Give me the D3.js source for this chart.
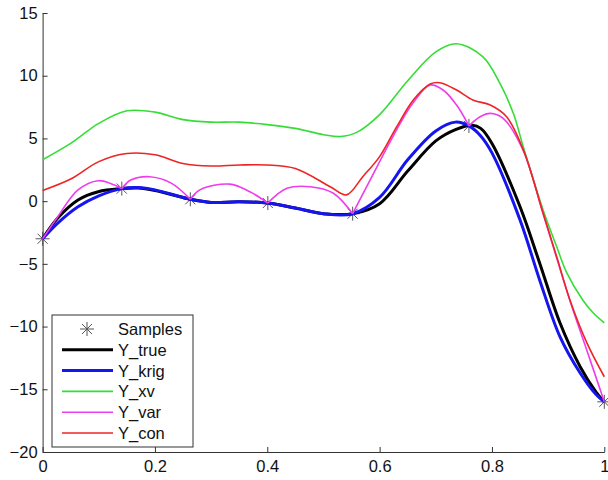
<!DOCTYPE html>
<html>
<head>
<meta charset="utf-8">
<script src="https://cdn.jsdelivr.net/npm/d3@7"></script>
<style>
  html, body { margin: 0; padding: 0; background: #fff; }
  svg text { font-family: "Liberation Sans", Arial, Helvetica, sans-serif; }
</style>
</head>
<body>
<svg id="chart" width="608" height="480"></svg>
<script>
// Sample locations and observed responses
const sampleX = [0, 0.141, 0.263, 0.401, 0.552, 0.759, 1.0];
const sampleY = [-3.0, 1.0, 0.15, -0.15, -1.0, 6.0, -16.0];

// True function
const trueX = [0, 0.027, 0.063, 0.099, 0.141, 0.17, 0.2, 0.263, 0.3, 0.35, 0.401, 0.45, 0.5, 0.552, 0.6, 0.65, 0.7, 0.735, 0.765, 0.78, 0.8, 0.85, 0.885, 0.921, 0.957, 0.985, 1.0];
const trueY = [-3.0, -1.35, 0.09, 0.75, 1.0, 1.05, 0.85, 0.15, -0.1, -0.05, -0.15, -0.55, -1.0, -1.0, -0.2, 2.4, 4.8, 5.7, 6.05, 5.8, 4.6, -0.45, -4.95, -9.7, -13.2, -15.2, -16.0];

// Kriging predictor
const krigX = [0, 0.027, 0.063, 0.099, 0.141, 0.17, 0.2, 0.263, 0.3, 0.35, 0.401, 0.45, 0.5, 0.552, 0.6, 0.65, 0.7, 0.735, 0.759, 0.78, 0.8, 0.85, 0.885, 0.921, 0.957, 0.985, 1.0];
const krigY = [-3.0, -1.75, -0.45, 0.4, 1.0, 1.08, 0.9, 0.15, -0.1, -0.05, -0.15, -0.55, -1.0, -1.0, 0.3, 3.3, 5.6, 6.3, 6.0, 5.2, 3.85, -1.5, -6.3, -10.8, -13.7, -15.4, -16.0];

// Cross-validation bound
const xvX = [0, 0.05, 0.1, 0.15, 0.2, 0.25, 0.3, 0.35, 0.4, 0.45, 0.5, 0.53, 0.56, 0.6, 0.65, 0.7, 0.737, 0.784, 0.814, 0.838, 0.856, 0.891, 0.915, 0.933, 0.962, 0.98, 1.0];
const xvY = [3.3, 4.6, 6.2, 7.2, 7.1, 6.5, 6.3, 6.3, 6.1, 5.8, 5.3, 5.15, 5.5, 6.9, 9.6, 11.9, 12.55, 11.5, 9.4, 7.0, 4.3, -0.7, -3.6, -5.7, -7.9, -8.9, -9.7];

// Variance-based bound, one arch between consecutive samples
const varArches = [
  { x: [0, 0.027, 0.063, 0.099, 0.128, 0.141], y: [-3.0, -1.24, 0.89, 1.63, 1.28, 1.0] },
  { x: [0.141, 0.157, 0.19, 0.229, 0.263], y: [1.0, 1.68, 1.95, 1.44, 0.15] },
  { x: [0.263, 0.28, 0.333, 0.369, 0.401], y: [0.15, 0.9, 1.36, 0.75, -0.15] },
  { x: [0.401, 0.435, 0.476, 0.517, 0.552], y: [-0.15, 1.02, 1.15, 0.65, -1.0] },
  { x: [0.552, 0.583, 0.63, 0.659, 0.69, 0.713, 0.737, 0.759], y: [-1.0, 1.68, 5.67, 7.8, 9.26, 8.86, 7.66, 6.0] },
  { x: [0.759, 0.779, 0.797, 0.82, 0.856, 0.891, 0.915, 0.94, 0.969, 1.0], y: [6.0, 6.73, 7.0, 6.6, 4.0, -1.0, -4.5, -8.1, -11.9, -16.0] }
];

// Conservative bound
const conX = [0, 0.05, 0.1, 0.15, 0.2, 0.25, 0.3, 0.35, 0.4, 0.45, 0.512, 0.541, 0.57, 0.6, 0.63, 0.66, 0.69, 0.707, 0.737, 0.766, 0.797, 0.826, 0.856, 0.891, 0.915, 0.939, 0.969, 1.0];
const conY = [0.85, 1.76, 3.15, 3.8, 3.7, 3.0, 2.8, 2.88, 2.88, 2.6, 1.15, 0.5, 1.95, 3.55, 5.9, 8.06, 9.34, 9.44, 8.86, 8.06, 7.66, 6.73, 4.07, -0.95, -4.4, -7.9, -11.3, -14.0];

const xTicks = [0, 0.2, 0.4, 0.6, 0.8, 1];
const yTicks = [15, 10, 5, 0, -5, -10, -15, -20];

const legendLabels = ["Samples", "Y_true", "Y_krig", "Y_xv", "Y_var", "Y_con"];

const svg = d3.select("#chart");

const x = d3.scaleLinear().domain([0, 1]).range([42.6, 604.3]);
const y = d3.scaleLinear().domain([-20, 15]).range([452, 13]);

const zip = (xs, ys) => xs.map((v, i) => [v, ys[i]]);
const line = d3.line()
  .x(d => x(d[0]))
  .y(d => y(d[1]))
  .curve(d3.curveCatmullRom.alpha(0.5));

// Axes (MATLAB style, ticks pointing inward)
const axisColor = "#333";
const xAxis = d3.axisBottom(x).tickValues(xTicks).tickSizeInner(-5).tickSizeOuter(0)
  .tickFormat(d => d3.format("")(d));
const yAxis = d3.axisLeft(y).tickValues(yTicks).tickSizeInner(-5).tickSizeOuter(0)
  .tickFormat(d => d3.format("")(d));

const gx = svg.append("g").attr("transform", `translate(0,${y(-20)})`).call(xAxis);
const gy = svg.append("g").attr("transform", `translate(${x(0)},0)`).call(yAxis);
[gx, gy].forEach(g => {
  g.select(".domain").attr("stroke", axisColor).attr("stroke-width", 1);
  g.selectAll(".tick line").attr("stroke", axisColor);
  g.selectAll(".tick text").attr("fill", "#111").attr("font-size", 16.5)
    .attr("font-family", "'Liberation Sans', Arial, sans-serif");
});
gx.selectAll(".tick text").attr("dy", "1.05em");
gy.selectAll(".tick text").attr("x", -5);

// Asterisk marker
function asterisk(g, cx, cy, r, color) {
  const a = r * 0.72;
  const segs = [[-r, 0, r, 0], [0, -r, 0, r], [-a, -a, a, a], [-a, a, a, -a]];
  segs.forEach(s => {
    g.append("line")
      .attr("x1", cx + s[0]).attr("y1", cy + s[1])
      .attr("x2", cx + s[2]).attr("y2", cy + s[3])
      .attr("stroke", color).attr("stroke-width", 1);
  });
}

const plot = svg.append("g");
const sampleColor = "#555";
const samplesG = plot.append("g");
sampleX.forEach((v, i) => asterisk(samplesG, x(v), y(sampleY[i]), 7, sampleColor));

const colors = { true: "#000000", krig: "#1515f0", xv: "#36dd36", var: "#ee3cee", con: "#ee2424" };
const widths = { true: 3, krig: 3, xv: 1.6, var: 1.6, con: 1.6 };

plot.append("path").attr("d", line(zip(trueX, trueY)))
  .attr("fill", "none").attr("stroke", colors.true).attr("stroke-width", widths.true);
plot.append("path").attr("d", line(zip(krigX, krigY)))
  .attr("fill", "none").attr("stroke", colors.krig).attr("stroke-width", widths.krig);
plot.append("path").attr("d", line(zip(xvX, xvY)))
  .attr("fill", "none").attr("stroke", colors.xv).attr("stroke-width", widths.xv);
varArches.forEach(a => {
  plot.append("path").attr("d", line(zip(a.x, a.y)))
    .attr("fill", "none").attr("stroke", colors.var).attr("stroke-width", widths.var);
});
plot.append("path").attr("d", line(zip(conX, conY)))
  .attr("fill", "none").attr("stroke", colors.con).attr("stroke-width", widths.con);

// Legend
const lg = svg.append("g");
lg.append("rect").attr("x", 52).attr("y", 315).attr("width", 141).attr("height", 132)
  .attr("fill", "#fff").attr("stroke", axisColor).attr("stroke-width", 1);
const rowY = i => 329 + i * 20.8;
const keys = [null, "true", "krig", "xv", "var", "con"];
legendLabels.forEach((lab, i) => {
  const yy = rowY(i);
  if (i === 0) {
    asterisk(lg, 87, yy, 7, sampleColor);
  } else {
    const k = keys[i];
    lg.append("line").attr("x1", 62).attr("x2", 113).attr("y1", yy).attr("y2", yy)
      .attr("stroke", colors[k]).attr("stroke-width", widths[k]);
  }
  lg.append("text").attr("x", 118).attr("y", yy).attr("dy", "0.36em")
    .attr("font-size", 16.5).attr("fill", "#111").text(lab);
});
</script>
</body>
</html>
